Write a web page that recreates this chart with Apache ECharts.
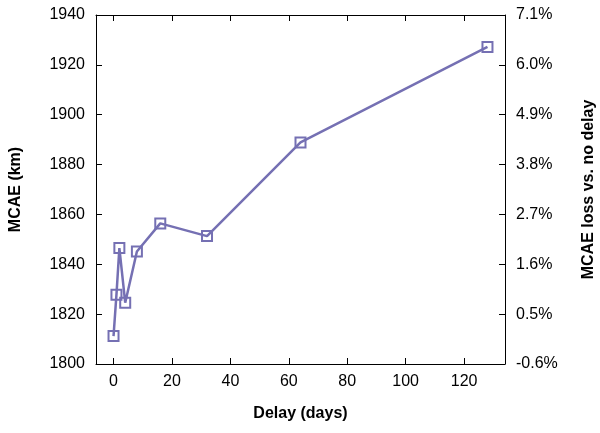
<!DOCTYPE html>
<html>
<head>
<meta charset="utf-8">
<script src="https://cdn.jsdelivr.net/npm/echarts@6/dist/echarts.min.js"></script>
<style>
  html, body { margin: 0; padding: 0; background: #fff; }
  #chart { width: 600px; height: 433px; }
</style>
</head>
<body>
<div id="chart"></div>
<script>
const delays = [0, 1, 2, 4, 8, 16, 32, 64, 128]
const mcae = [1811.2, 1827.8, 1846.5, 1824.6, 1845.1, 1856.4, 1851.3, 1888.9, 1927.2]
const xTicks = [0, 20, 40, 60, 80, 100, 120]
const lossLabels = ['-0.6%', '0.5%', '1.6%', '2.7%', '3.8%', '4.9%', '6.0%', '7.1%']

const chart = echarts.init(document.getElementById('chart'))
const font = 'Liberation Sans, Arial, Helvetica, sans-serif'
const lineColor = '#7570b3'

const axisLine = { show: true, onZero: false, lineStyle: { color: '#000', width: 1 } }
const inTick = { show: true, inside: true, length: 6, lineStyle: { color: '#000', width: 1 } }
const nameStyle = { fontFamily: font, fontSize: 16, fontWeight: 'bold', color: '#000' }

const option = {
  animation: false,
  backgroundColor: '#fff',
  grid: { left: 96, right: 95, top: 15, bottom: 69, outerBoundsMode: 'none', containLabel: false },
  xAxis: [
    {
      type: 'value',
      min: -6,
      max: 134,
      position: 'bottom',
      name: 'Delay (days)',
      nameLocation: 'middle',
      nameGap: 42,
      nameTextStyle: nameStyle,
      axisLine: axisLine,
      axisTick: Object.assign({ customValues: xTicks }, inTick),
      axisLabel: { customValues: xTicks, fontFamily: font, fontSize: 16, color: '#000', margin: 10 },
      splitLine: { show: false }
    },
    {
      type: 'value',
      min: -6,
      max: 134,
      position: 'top',
      axisLine: axisLine,
      axisTick: Object.assign({ customValues: xTicks }, inTick),
      axisLabel: { show: false },
      splitLine: { show: false }
    }
  ],
  yAxis: [
    {
      type: 'value',
      min: 1800,
      max: 1940,
      interval: 20,
      position: 'left',
      name: 'MCAE (km)',
      nameLocation: 'middle',
      nameGap: 72,
      nameTextStyle: nameStyle,
      axisLine: axisLine,
      axisTick: inTick,
      axisLabel: {
        fontFamily: font,
        fontSize: 16,
        color: '#000',
        margin: 11,
        formatter: function (v) { return String(v) }
      },
      splitLine: { show: false }
    },
    {
      type: 'value',
      min: 1800,
      max: 1940,
      interval: 20,
      position: 'right',
      name: 'MCAE loss vs. no delay',
      nameLocation: 'middle',
      nameGap: 76,
      nameRotate: 90,
      nameTextStyle: nameStyle,
      axisLine: axisLine,
      axisTick: inTick,
      axisLabel: {
        fontFamily: font,
        fontSize: 16,
        color: '#000',
        margin: 11,
        formatter: function (v) {
          return lossLabels[Math.round((v - 1800) / 20)]
        }
      },
      splitLine: { show: false }
    }
  ],
  series: [
    {
      type: 'line',
      data: delays.map(function (d, i) { return [d, mcae[i]] }),
      symbol: 'rect',
      symbolSize: 10,
      showAllSymbol: true,
      lineStyle: { color: lineColor, width: 2.5 },
      itemStyle: { color: 'transparent', borderColor: lineColor, borderWidth: 2 },
      z: 3
    }
  ]
}
chart.setOption(option)
</script>
</body>
</html>
